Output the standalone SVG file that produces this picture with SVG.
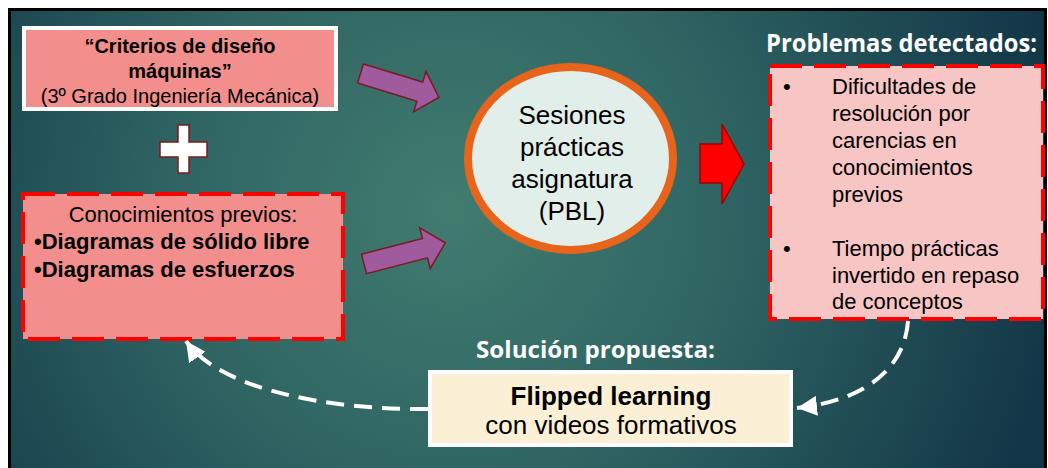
<svg xmlns="http://www.w3.org/2000/svg" width="1048" height="468" viewBox="0 0 1048 468">
<defs>
<radialGradient id="bg" cx="450" cy="210" r="620" gradientUnits="userSpaceOnUse">
<stop offset="0" stop-color="#417c6f"/>
<stop offset="0.45" stop-color="#2f6463"/>
<stop offset="1" stop-color="#123647"/>
</radialGradient>
<marker id="wh" viewBox="0 0 10 10" refX="10" refY="5" markerWidth="20" markerHeight="20" markerUnits="userSpaceOnUse" orient="auto">
<path d="M0,0 L10,5 L0,10 z" fill="#ffffff"/>
</marker>
<style>
.t{font-family:"Liberation Sans",Arial,sans-serif;fill:#000}
.b{font-weight:bold}
.h{font-family:"Open Sans","Liberation Sans",sans-serif;font-weight:bold;fill:#fff}
.dash{stroke:#ff0000;stroke-width:4;stroke-dasharray:32 12}
.purple{fill:#a05a9e;stroke:#7a1a22;stroke-width:1.5}
.conn{fill:none;stroke:#fff;stroke-width:4;stroke-dasharray:18 10}
</style>
</defs>
<rect x="0" y="0" width="1048" height="468" fill="#ffffff"/>
<rect x="9.5" y="9.5" width="1036" height="470" fill="url(#bg)" stroke="#000" stroke-width="3"/>

<g id="box-criterios">
<rect x="24" y="28" width="312" height="81" fill="#f28f8d" stroke="#ffffff" stroke-width="4"/>
<text class="t b" x="180" y="53" font-size="20" text-anchor="middle">“Criterios de diseño</text>
<text class="t b" x="180" y="78" font-size="20" text-anchor="middle">máquinas”</text>
<text class="t" x="180" y="103" font-size="20" text-anchor="middle">(3º Grado Ingeniería Mecánica)</text>
</g>

<g id="plus">
<path d="M178,125 H189 V142 H207 V157 H189 V173 H178 V157 H160 V142 H178 Z" fill="#ffffff" stroke="#7a1a1a" stroke-width="1.5"/>
</g>

<g id="box-conocimientos">
<rect x="23" y="194" width="320" height="145" fill="#f28f8d" class="dash"/>
<text class="t" x="183" y="222" font-size="22" text-anchor="middle">Conocimientos previos:</text>
<text class="t b" x="34" y="249" font-size="22">•Diagramas de sólido libre</text>
<text class="t b" x="34" y="277" font-size="22">•Diagramas de esfuerzos</text>
</g>

<g id="sesiones">
<ellipse cx="570.5" cy="158.5" rx="102.5" ry="91.5" fill="#e2eee9" stroke="#e8641a" stroke-width="8"/>
<text class="t" x="572" y="124" font-size="26" text-anchor="middle">Sesiones</text>
<text class="t" x="572" y="156" font-size="26" text-anchor="middle">prácticas</text>
<text class="t" x="572" y="188" font-size="26" text-anchor="middle">asignatura</text>
<text class="t" x="572" y="220" font-size="26" text-anchor="middle">(PBL)</text>
</g>

<g id="problemas-title">
<text class="h" x="766" y="52" font-size="25" textLength="271" lengthAdjust="spacingAndGlyphs">Problemas detectados:</text>
</g>

<g id="box-problemas">
<rect x="770" y="66" width="273" height="253" fill="#f8c5c5" class="dash"/>
<text class="t" x="783" y="94" font-size="22">•</text>
<text class="t" x="832" y="94" font-size="22">Dificultades de</text>
<text class="t" x="832" y="121" font-size="22">resolución por</text>
<text class="t" x="832" y="148" font-size="22">carencias en</text>
<text class="t" x="832" y="175" font-size="22">conocimientos</text>
<text class="t" x="832" y="202" font-size="22">previos</text>
<text class="t" x="783" y="256" font-size="22">•</text>
<text class="t" x="832" y="256" font-size="22">Tiempo prácticas</text>
<text class="t" x="832" y="283" font-size="22">invertido en repaso</text>
<text class="t" x="832" y="309" font-size="22">de conceptos</text>
</g>

<g id="solucion-title">
<text class="h" x="476" y="358" font-size="23" textLength="239" lengthAdjust="spacingAndGlyphs">Solución propuesta:</text>
</g>

<g id="box-flipped">
<rect x="430" y="372" width="361" height="73" fill="#fbf0d6" stroke="#ffffff" stroke-width="4"/>
<text class="t b" x="611" y="405" font-size="26" text-anchor="middle">Flipped learning</text>
<text class="t" x="611" y="434" font-size="26" text-anchor="middle">con videos formativos</text>
</g>

<g id="connectors">
<polygon class="purple" transform="translate(360.5,73.5) rotate(17)" points="0,-10 62,-10 62,-21 82,0 62,21 62,10 0,10"/>
<polygon class="purple" transform="translate(364,264) rotate(-14.6)" points="0,-10 63,-10 63,-21 84,0 63,21 63,10 0,10"/>
<polygon points="700,144 722,144 722,124 744,164 722,204 722,183 700,183" fill="#ff0000" stroke="#a00000" stroke-width="1.5"/>
<path class="conn" d="M908,321 C905,365 870,400 797,408" marker-end="url(#wh)"/>
<path class="conn" d="M428,409 C330,410 220,390 186,341" marker-end="url(#wh)"/>
</g>
</svg>
